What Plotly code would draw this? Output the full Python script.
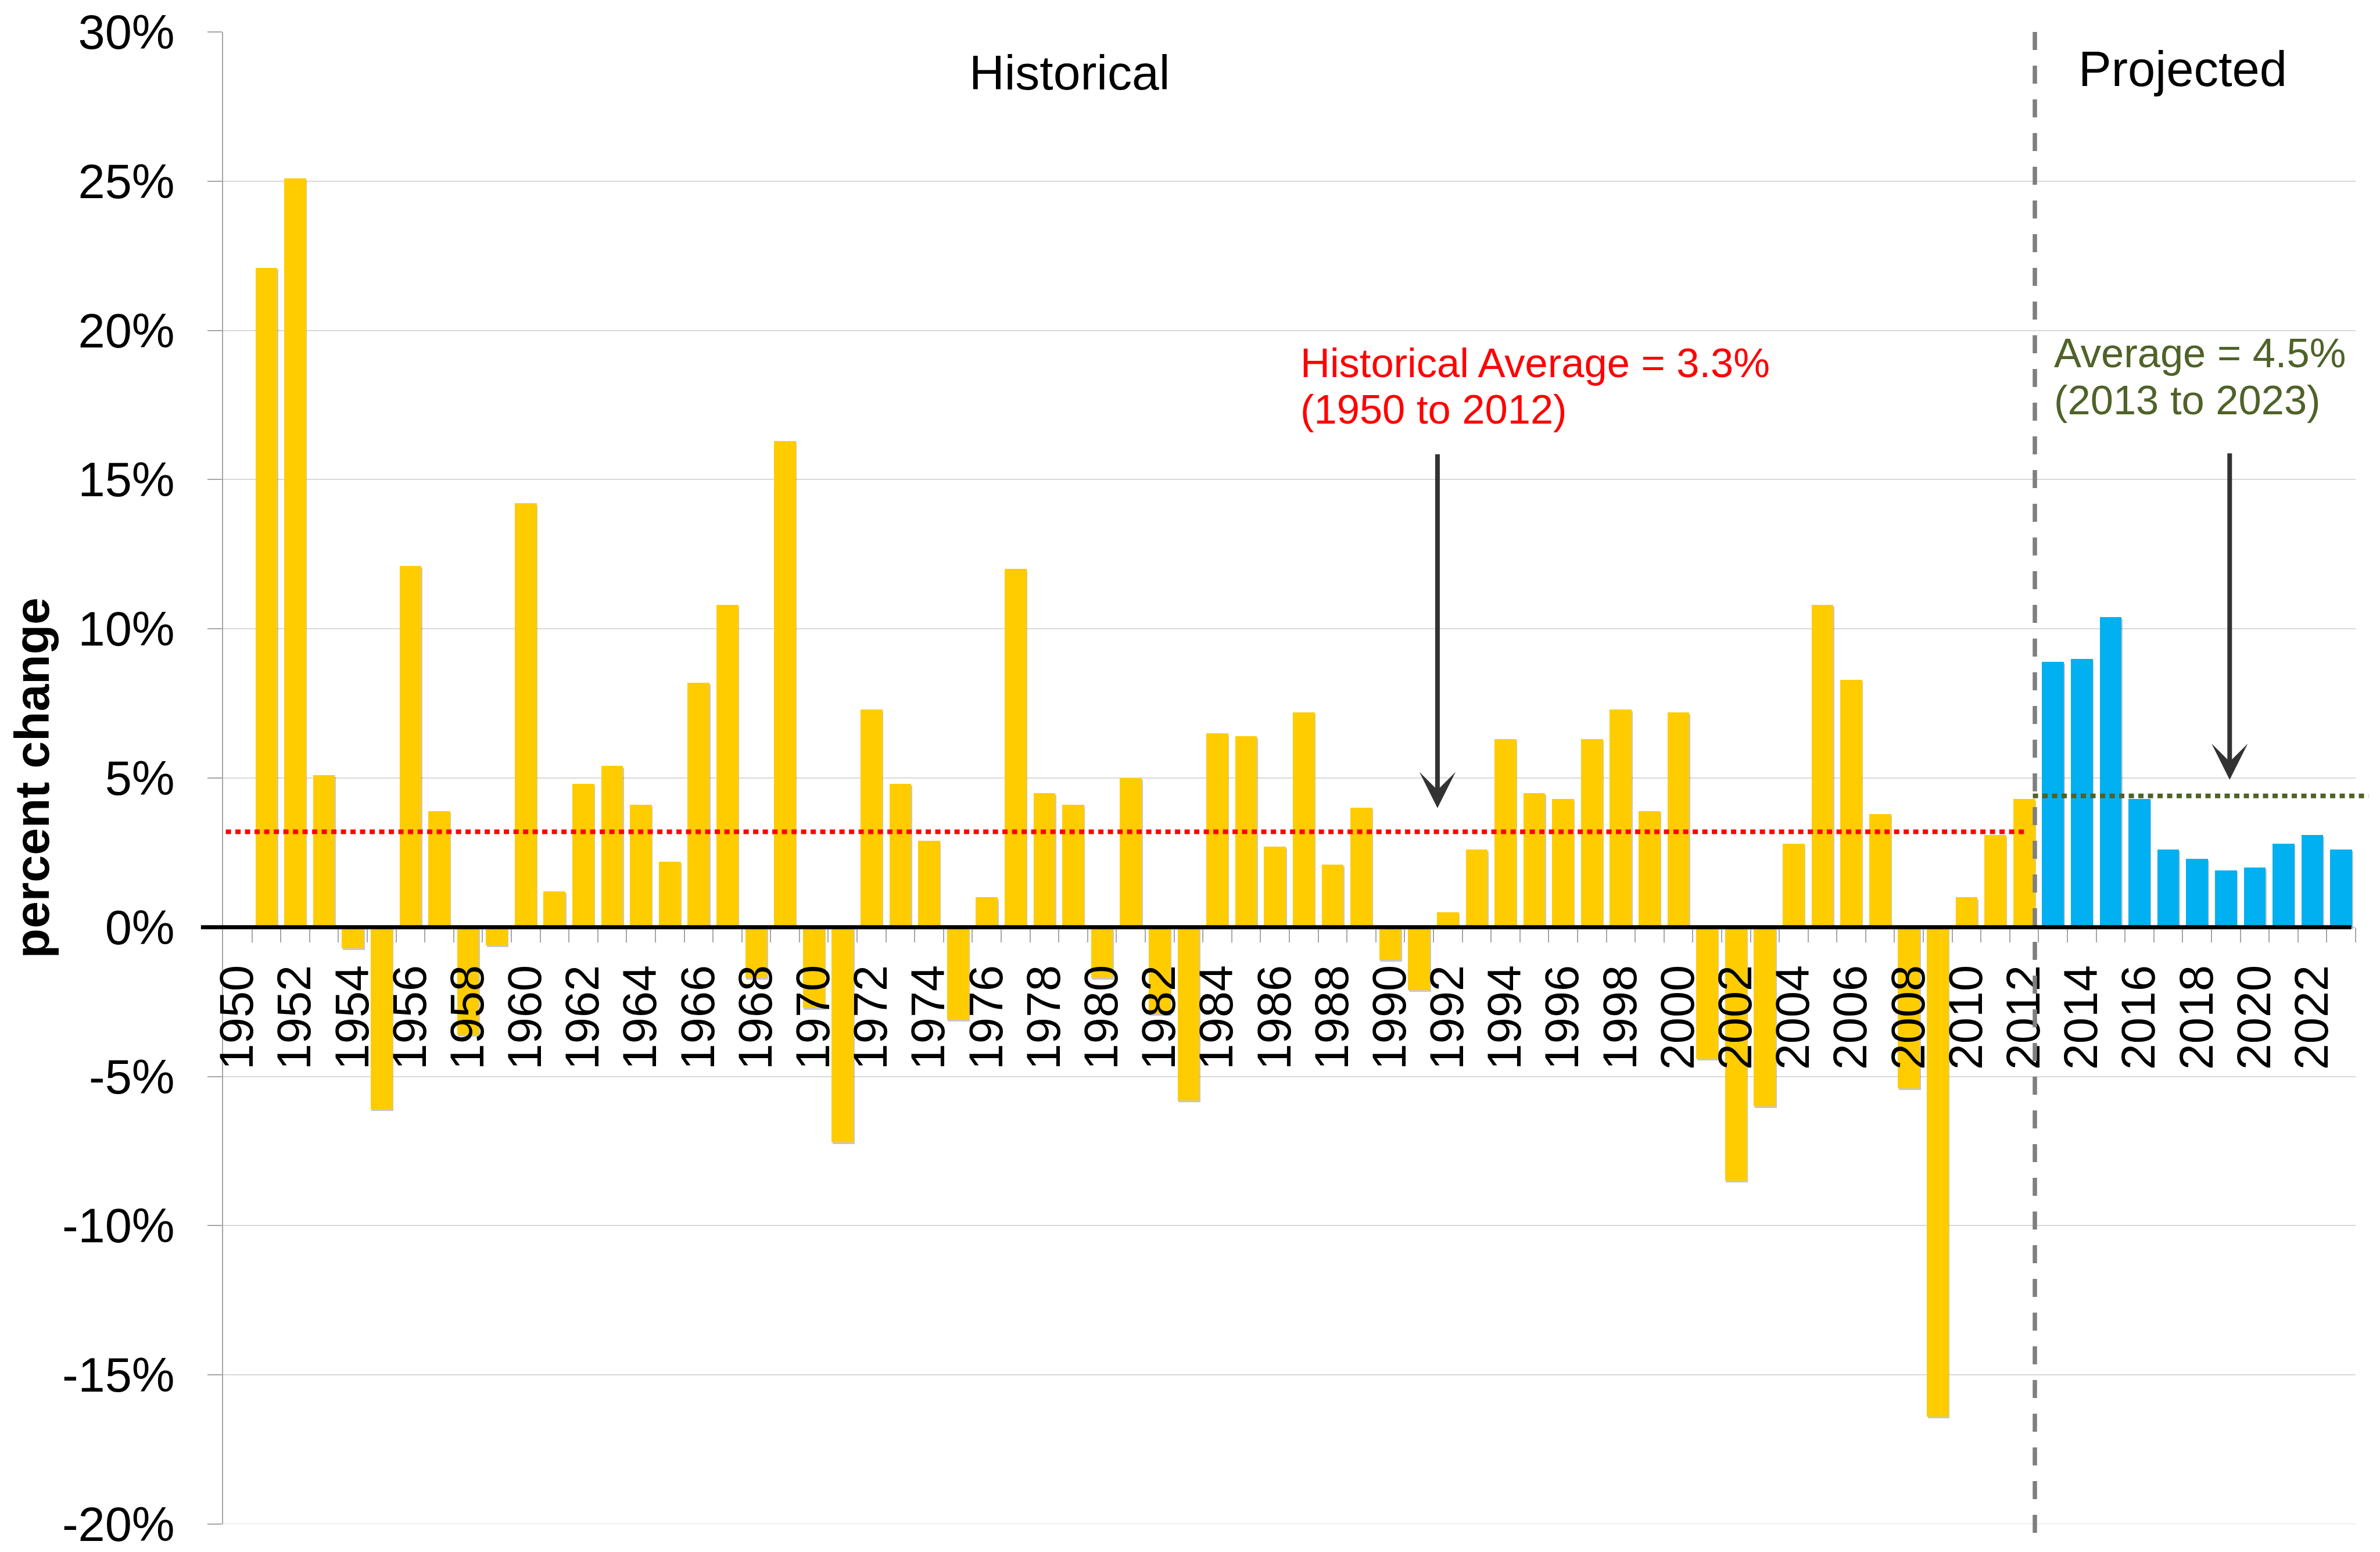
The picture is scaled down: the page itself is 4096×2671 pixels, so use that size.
import plotly.graph_objects as go

# ---------------- data ----------------
hist_years = list(range(1950, 2013))
hist_values = [None, 22.1, 25.1, 5.1, -0.7, -6.1, 12.1, 3.9, -3.6, -0.6,
               14.2, 1.2, 4.8, 5.4, 4.1, 2.2, 8.2, 10.8, -1.7, 16.3,
               -2.7, -7.2, 7.3, 4.8, 2.9, -3.1, 1.0, 12.0, 4.5, 4.1,
               -1.7, 5.0, -2.9, -5.8, 6.5, 6.4, 2.7, 7.2, 2.1, 4.0,
               -1.1, -2.1, 0.5, 2.6, 6.3, 4.5, 4.3, 6.3, 7.3, 3.9,
               7.2, -4.4, -8.5, -6.0, 2.8, 10.8, 8.3, 3.8, -5.4, -16.4,
               1.0, 3.1, 4.3]
proj_years = list(range(2013, 2024))
proj_values = [8.9, 9.0, 10.4, 4.3, 2.6, 2.3, 1.9, 2.0, 2.8, 3.1, 2.6]

hist_avg_line = 3.2      # drawn level of the historical average
proj_avg_line = 4.4      # drawn level of the projected average

y_tick_vals = [-20, -15, -10, -5, 0, 5, 10, 15, 20, 25, 30]
y_tick_text = ["-20%", "-15%", "-10%", "-5%", "0%", "5%", "10%", "15%", "20%", "25%", "30%"]
x_tick_vals = list(range(1950, 2023, 2))
x_tick_text = [str(v) for v in x_tick_vals]

FONT = "Liberation Sans, Arial, sans-serif"
YELLOW = "#FFCC00"
BLUE = "#00B0F0"
OLIVE = "#4F6228"

X0, X1 = 1949.5, 2023.5
Y0, Y1 = -20, 30

fig = go.Figure()

# subtle drop shadows (Excel style)
def shadow(xs, ys):
    return go.Bar(x=[x + 0.03 for x in xs], y=ys, base=-0.06, width=0.76,
                  marker=dict(color="rgba(0,0,0,0.22)", line=dict(width=0)),
                  hoverinfo="skip", showlegend=False)

fig.add_trace(shadow(hist_years, hist_values))
fig.add_trace(shadow(proj_years, proj_values))

fig.add_trace(go.Bar(x=hist_years, y=hist_values, width=0.76,
                     marker=dict(color=YELLOW, line=dict(width=0)),
                     name="Historical", showlegend=False))
fig.add_trace(go.Bar(x=proj_years, y=proj_values, width=0.76,
                     marker=dict(color=BLUE, line=dict(width=0)),
                     name="Projected", showlegend=False))

# ---------------- shapes ----------------
shapes = []
# bottom gridline (edge of range)
shapes.append(dict(type="line", xref="paper", yref="y", x0=0, x1=1, y0=Y0, y1=Y0,
                   layer="below", line=dict(color="#D9D9D9", width=1.5)))
# divider between historical and projected
shapes.append(dict(type="line", xref="x", yref="paper", x0=2012.37, x1=2012.37,
                   y0=1.0, y1=-0.011, layer="above",
                   line=dict(color="#7F7F7F", width=7.5, dash="31px,27px")))
# historical average (red dotted)
shapes.append(dict(type="line", xref="x", yref="y", x0=1949.26, x1=2012.06,
                   y0=hist_avg_line, y1=hist_avg_line, layer="above",
                   line=dict(color="#FF0000", width=8, dash="9px,7.5px")))
# projected average (olive dotted)
shapes.append(dict(type="line", xref="paper", yref="y", x0=(2012.3 - X0) / (X1 - X0),
                   x1=(2023.95 - X0) / (X1 - X0),
                   y0=proj_avg_line, y1=proj_avg_line, layer="above",
                   line=dict(color=OLIVE, width=8, dash="9px,7.5px")))
# zero axis line (black)
shapes.append(dict(type="line", xref="paper", yref="y", x0=-0.0104, x1=0.998,
                   y0=0, y1=0, layer="above",
                   line=dict(color="#000000", width=7)))

# ---------------- annotations ----------------
ann = []
ann.append(dict(text="Historical", x=1978.87, y=28.63, xref="x", yref="y",
                xanchor="center", yanchor="middle", showarrow=False,
                font=dict(size=84, color="#000000", family=FONT)))
ann.append(dict(text="Projected", x=2017.5, y=28.77, xref="x", yref="y",
                xanchor="center", yanchor="middle", showarrow=False,
                font=dict(size=85, color="#000000", family=FONT)))
ann.append(dict(text="Historical Average = 3.3%", x=1986.85, y=18.92, xref="x", yref="y",
                xanchor="left", yanchor="middle", showarrow=False,
                font=dict(size=70.5, color="#FF0000", family=FONT)))
ann.append(dict(text="(1950 to 2012)", x=1986.85, y=17.36, xref="x", yref="y",
                xanchor="left", yanchor="middle", showarrow=False,
                font=dict(size=70.5, color="#FF0000", family=FONT)))
ann.append(dict(text="Average = 4.5%", x=2013.0, y=19.24, xref="x", yref="y",
                xanchor="left", yanchor="middle", showarrow=False,
                font=dict(size=70.5, color=OLIVE, family=FONT)))
ann.append(dict(text="(2013 to 2023)", x=2013.0, y=17.67, xref="x", yref="y",
                xanchor="left", yanchor="middle", showarrow=False,
                font=dict(size=70.5, color=OLIVE, family=FONT)))
# arrows
for ax_x, tip_y, tail_y in [(1991.64, 3.99, 15.88), (2019.13, 4.94, 15.91)]:
    ann.append(dict(text="", x=ax_x, y=tip_y, ax=ax_x, ay=tail_y,
                    xref="x", yref="y", axref="x", ayref="y",
                    showarrow=True, arrowhead=3, arrowsize=1.3, arrowwidth=8,
                    arrowcolor="#333333", standoff=0))
# y axis title
ann.append(dict(text="<b>percent change</b>", x=-0.0896, y=0.5, xref="paper", yref="paper",
                xanchor="center", yanchor="middle", textangle=-90, showarrow=False,
                font=dict(size=84, color="#000000", family=FONT)))

fig.update_layout(
    width=4096, height=2671,
    margin=dict(l=376, r=50, t=47, b=56, autoexpand=False),
    paper_bgcolor="white", plot_bgcolor="white",
    barmode="overlay", bargap=0,
    font=dict(family=FONT, size=80, color="#000000"),
    shapes=shapes, annotations=ann, showlegend=False,
    xaxis=dict(range=[X0, X1], anchor="free", position=(0 - Y0) / (Y1 - Y0),
               tickmode="array", tickvals=x_tick_vals, ticktext=x_tick_text,
               tickangle=-90, ticks="", ticklabelstandoff=48,
               tickfont=dict(size=81, family=FONT, color="#000000"),
               showgrid=False, zeroline=False, showline=False, automargin=False,
               minor=dict(tickvals=[y + 0.5 for y in range(1950, 2024)], ticks="outside",
                          ticklen=25, tickwidth=1.5, tickcolor="#A6A6A6", showgrid=False)),
    yaxis=dict(range=[Y0, Y1], tickmode="array", tickvals=y_tick_vals, ticktext=y_tick_text,
               ticks="outside", ticklen=25, tickwidth=1.5, tickcolor="#A6A6A6",
               ticklabelstandoff=40, ticklabeloverflow="allow",
               tickfont=dict(size=83, family=FONT, color="#000000"),
               showgrid=True, gridcolor="#D9D9D9", gridwidth=1.5,
               zeroline=False, showline=True, linecolor="#A6A6A6", linewidth=1.5,
               automargin=False),
)

fig.write_html("out.html")
